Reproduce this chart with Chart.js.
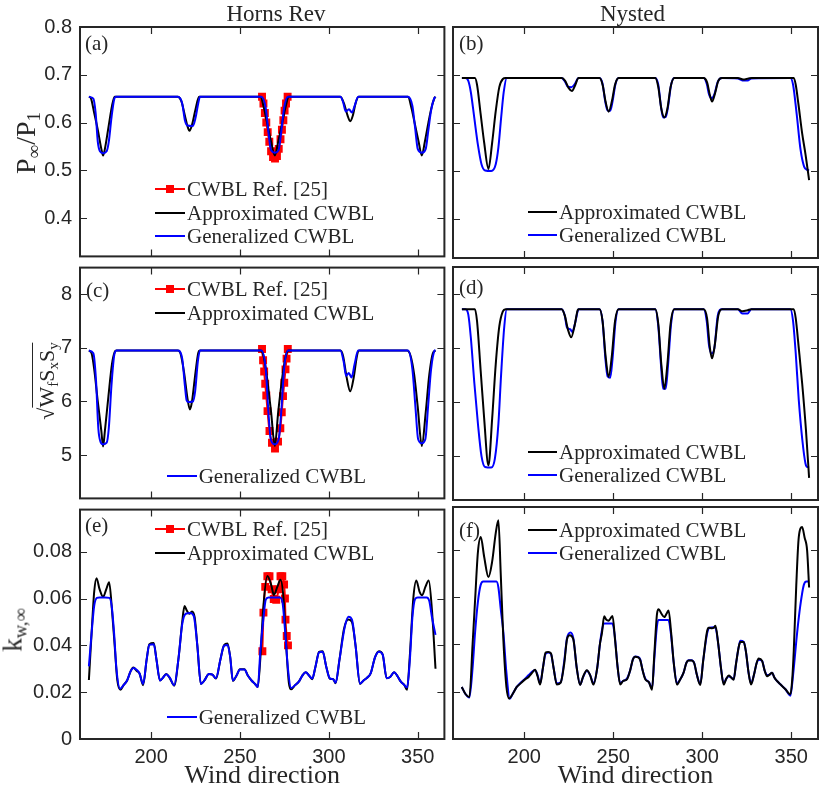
<!DOCTYPE html>
<html><head><meta charset="utf-8">
<script src="https://cdn.jsdelivr.net/npm/chart.js@4.4.0/dist/chart.umd.min.js"></script>
<style>
html,body{margin:0;padding:0;background:#fff;overflow:hidden;width:822px;height:790px;position:relative;}
canvas{position:absolute;}
.t{position:absolute;font-family:"Liberation Serif",serif;color:#262626;white-space:nowrap;line-height:1;z-index:5;}
.t sub{font-size:68%;vertical-align:-0.28em;line-height:0;}
.ln{position:absolute;height:2px;z-index:5;}
.mk{position:absolute;width:8px;height:8px;z-index:6;}
</style></head><body>
<script>
// ---------- axis ticks ----------
const xTicks = [200, 250, 300, 350];
const pTicks = [0.4, 0.5, 0.6, 0.7, 0.8];
const sTicks = [5, 6, 7, 8];
const kTicks = [0, 0.02, 0.04, 0.06, 0.08];

// ---------- Horns Rev : P_inf / P_1 ----------
const hrP_ref = [[262.4,0.654],[263.2,0.64],[264,0.62],[264.8,0.6],[265.6,0.58],[266.5,0.56],[267.5,0.54],[268.6,0.528],[269.7,0.525],[270.8,0.53],[271.8,0.545],[272.8,0.565],[273.6,0.585],[274.4,0.605],[275.1,0.625],[275.9,0.64],[276.8,0.654]];
const hrP_apx = [[165,0.654],[166,0.652],[168,0.62],[170,0.585],[172,0.545],[173,0.531],[174,0.545],[176,0.59],[178,0.635],[179.5,0.654],
 [215,0.654],[217,0.645],[219,0.615],[220.5,0.592],[221.6,0.583],[223,0.595],[225,0.628],[227,0.654],
 [261.5,0.654],[263.5,0.63],[265.5,0.595],[267.5,0.56],[269.6,0.531],[271.5,0.56],[273.5,0.595],[275.5,0.63],[277.5,0.654],
 [306.5,0.654],[308.5,0.64],[310.5,0.615],[312,0.603],[313.5,0.615],[315,0.64],[316.8,0.654],
 [344.5,0.654],[346.5,0.63],[348.5,0.595],[350.5,0.56],[352.3,0.531],[354,0.56],[356,0.6],[358,0.635],[359.5,0.652],[360,0.654]];
const hrP_gen = [[165,0.654],[167.5,0.65],[168.8,0.62],[170,0.56],[171.2,0.54],[173,0.536],[175,0.54],[176.2,0.56],[177.7,0.61],[179.2,0.648],[180.2,0.654],
 [215,0.654],[217.5,0.64],[219,0.605],[220.5,0.594],[223.5,0.593],[225,0.61],[226.5,0.64],[227.5,0.654],
 [262,0.654],[264.5,0.63],[266,0.58],[267.5,0.542],[269.7,0.537],[271.7,0.542],[273.2,0.58],[274.8,0.63],[277,0.654],
 [306.5,0.654],[308,0.643],[309.5,0.623],[311.3,0.628],[313,0.621],[314.5,0.635],[316.5,0.654],
 [344.5,0.654],[347,0.635],[348.5,0.59],[350,0.545],[352.3,0.537],[354.5,0.545],[356,0.585],[357.5,0.625],[359.2,0.65],[360,0.654]];

// ---------- Nysted : P_inf / P_1 ----------
const nyP_apx = [[165,0.694],[172.3,0.694],[173.5,0.68],[175.5,0.62],[177.5,0.56],[179.9,0.505],[182,0.56],[184,0.625],[186,0.675],[188,0.692],[189.5,0.694],
 [221,0.694],[223,0.688],[225,0.673],[226.8,0.667],[228.5,0.678],[230.5,0.694],
 [242.3,0.694],[244,0.68],[245.7,0.645],[247.4,0.624],[249.2,0.645],[251,0.68],[253,0.694],
 [273.6,0.694],[275.3,0.675],[277,0.63],[278.7,0.612],[280.4,0.63],[282.2,0.675],[284.3,0.694],
 [300.8,0.694],[302.7,0.685],[304.3,0.658],[305.5,0.645],[307,0.66],[309,0.688],[311.1,0.694],
 [320,0.694],[323,0.691],[326,0.693],[328,0.694],
 [351.4,0.694],[352.5,0.68],[354,0.64],[356.1,0.579],[358,0.535],[360,0.482]];
const nyP_gen = [[165,0.694],[167,0.694],[168.6,0.688],[170,0.665],[172,0.61],[174,0.555],[176,0.515],[178,0.502],[181.5,0.501],[184,0.515],[185.5,0.55],[187,0.61],[188.5,0.665],[190.2,0.694],
 [221,0.694],[223,0.686],[224.5,0.676],[226.5,0.675],[228.5,0.682],[230.5,0.694],
 [242.3,0.694],[244,0.682],[245.5,0.645],[246.8,0.627],[248.3,0.626],[249.6,0.645],[251.3,0.682],[253,0.694],
 [273.6,0.694],[275.3,0.68],[276.8,0.635],[278,0.612],[279.5,0.613],[280.8,0.635],[282.5,0.68],[284.3,0.694],
 [300.8,0.694],[302.5,0.682],[303.8,0.66],[305.3,0.652],[306.8,0.66],[308.7,0.686],[311,0.694],
 [320,0.693],[322.5,0.689],[325.5,0.689],[327.5,0.693],
 [349.5,0.694],[351,0.68],[353,0.62],[355.2,0.545],[357.2,0.51],[359,0.503],[360,0.502]];

// ---------- Horns Rev : sqrt(Wf Sx Sy) ----------
const hrS_ref = [[262.4,6.98],[263,6.77],[263.6,6.56],[264.2,6.33],[264.8,6.11],[265.5,5.82],[266.6,5.45],[268,5.23],[269.7,5.12],[271.4,5.25],[272.7,5.5],[273.5,5.8],[274.2,6.1],[274.9,6.35],[275.6,6.6],[276.2,6.8],[276.9,6.98]];
const hrS_apx = [[165,6.95],[166.5,6.9],[168,6.6],[170,6.0],[172,5.45],[173,5.16],[174,5.45],[176,6.1],[178,6.7],[179.5,6.92],[180.5,6.95],
 [215,6.95],[216.5,6.9],[218.5,6.55],[220.5,6.05],[221.8,5.85],[223,6.0],[225,6.55],[226.5,6.9],[227.5,6.95],
 [261.5,6.95],[263,6.88],[265,6.5],[267.5,5.8],[269.6,5.17],[271.5,5.8],[274,6.5],[276,6.88],[277.5,6.95],
 [306.5,6.95],[308,6.85],[310,6.45],[312,6.19],[314,6.45],[315.8,6.85],[317,6.95],
 [344,6.95],[346,6.85],[348,6.5],[350,5.9],[352.3,5.17],[354.5,5.8],[356.5,6.5],[358.5,6.9],[360,6.95]];
const hrS_gen = [[165,6.95],[167.5,6.9],[169,6.4],[170.3,5.5],[171.5,5.25],[173,5.2],[175,5.23],[176.2,5.5],[177.7,6.3],[179.2,6.85],[180.5,6.95],
 [215,6.95],[217.5,6.8],[219,6.3],[220,6.02],[221,5.99],[223.5,6.0],[224.8,6.2],[226.3,6.75],[227.5,6.95],
 [262,6.95],[264.5,6.6],[266,5.8],[267.3,5.3],[269.5,5.2],[271.8,5.3],[273.2,5.8],[274.8,6.6],[277,6.95],
 [306.5,6.95],[308.3,6.75],[309.7,6.48],[311.2,6.53],[312.8,6.45],[314.5,6.7],[316.5,6.95],
 [344.5,6.95],[347,6.6],[348.7,5.9],[350.2,5.3],[352.3,5.22],[354.3,5.3],[355.8,5.9],[357.5,6.6],[359.5,6.95],[360,6.96]];

// ---------- Nysted : sqrt(Wf Sx Sy) ----------
const nyS_apx = [[165,7.72],[172.3,7.72],[173.5,7.5],[175.5,6.6],[177.5,5.7],[179.9,4.83],[182,5.7],[184,6.7],[186,7.4],[188,7.68],[189.5,7.72],
 [221,7.72],[222.8,7.6],[224.5,7.35],[226.4,7.2],[228.2,7.4],[230,7.7],[230.5,7.72],
 [242.3,7.72],[244,7.5],[245.7,6.85],[247.4,6.47],[249.2,6.85],[251,7.5],[253,7.72],
 [273.6,7.72],[275.3,7.45],[277,6.7],[278.7,6.25],[280.4,6.7],[282.2,7.45],[284.3,7.72],
 [300.8,7.72],[302.7,7.55],[304.3,7.0],[305.5,6.81],[307,7.05],[309,7.6],[311.1,7.72],
 [320,7.72],[322.5,7.68],[325.5,7.7],[327.5,7.72],
 [351.4,7.72],[352.5,7.55],[354.2,7.0],[356.1,6.35],[358.2,5.5],[360,4.6]];
const nyS_gen = [[165,7.72],[167,7.72],[168.6,7.62],[170,7.2],[172,6.35],[174,5.6],[176,5.0],[178,4.8],[181.5,4.79],[183.5,4.95],[185.5,5.6],[187,6.5],[188.8,7.4],[190.2,7.72],
 [221,7.72],[222.8,7.6],[224,7.38],[225.8,7.35],[227,7.3],[228.5,7.45],[230,7.68],[230.5,7.72],
 [242.3,7.72],[244,7.5],[245.6,6.8],[246.8,6.48],[248.3,6.45],[249.6,6.8],[251.3,7.5],[253,7.72],
 [273.6,7.72],[275.3,7.4],[276.8,6.7],[278,6.25],[279.5,6.25],[280.8,6.7],[282.5,7.45],[284.3,7.72],
 [300.8,7.72],[302.5,7.5],[303.8,7.05],[305.3,6.9],[306.8,7.0],[308.7,7.6],[311,7.72],
 [320,7.72],[322.5,7.64],[325.5,7.64],[327.5,7.72],
 [349.5,7.72],[351,7.5],[352.5,6.9],[354.2,6.04],[356.2,5.3],[358,4.86],[359,4.8],[360,4.8]];

// ---------- Horns Rev : k_w,inf ----------
const hrK_ref = [[262.6,0.0375],[263.2,0.054],[264.2,0.065],[265.4,0.0695],[266.6,0.0695],[267.8,0.064],[269,0.0598],[270.4,0.0595],[271.7,0.064],[272.8,0.0695],[273.8,0.0695],[274.8,0.066],[275.3,0.06],[275.6,0.051],[276.3,0.044],[277,0.04]];
const hrK_apx = [[165,0.0252],[166.5,0.045],[168,0.063],[169.3,0.0687],[171,0.064],[173,0.0607],[174.8,0.064],[176.4,0.067],[178,0.055],[179.5,0.04],[181,0.025],[182.8,0.021],[184.5,0.023],[186.5,0.025],[188.5,0.029],[190,0.0305],[192,0.029],[193.5,0.028],[195.5,0.023],[197.5,0.034],[199,0.0405],[201.5,0.041],[203,0.034],[205,0.025],[206.5,0.026],[208.5,0.0278],[210.5,0.026],[213,0.0228],[215.5,0.035],[217.5,0.05],[218.8,0.0568],[220,0.055],[221.5,0.0535],[223,0.0545],[224.5,0.052],[226,0.04],[228,0.0235],[230,0.025],[232.5,0.0278],[234.5,0.0275],[236.5,0.0258],[239,0.034],[241,0.04],[243,0.0408],[244.5,0.035],[246,0.0248],[248,0.027],[250,0.0298],[252.5,0.0298],[254.5,0.027],[256.5,0.025],[258.5,0.0235],[260,0.0222],[261.5,0.035],[263,0.055],[265.4,0.0696],[267.5,0.066],[269.1,0.0615],[271,0.065],[272.8,0.068],[274.5,0.06],[276,0.04],[277.5,0.024],[278.8,0.0212],[281,0.023],[283.1,0.0245],[285,0.027],[287,0.0285],[289,0.027],[290.6,0.0255],[292.5,0.031],[294.5,0.0372],[296.5,0.0375],[298.5,0.031],[300.5,0.0258],[302.5,0.0255],[303.8,0.0238],[306,0.034],[308.5,0.047],[311,0.051],[313,0.05],[315,0.04],[317.5,0.0235],[319.5,0.025],[321.5,0.0262],[323.5,0.028],[326,0.035],[328.2,0.0375],[330.3,0.036],[332.5,0.026],[334.5,0.0265],[336.7,0.0285],[338.5,0.027],[340.5,0.0245],[342.5,0.023],[344,0.021],[345.5,0.035],[347.5,0.06],[349.2,0.0677],[351,0.063],[352.5,0.0614],[354.3,0.065],[356.2,0.0677],[358,0.055],[360,0.03]];
const hrK_gen = [[165,0.031],[166.5,0.045],[168,0.057],[169.5,0.0603],[171,0.0605],[174,0.0605],[176.5,0.0603],[177.8,0.057],[179.2,0.045],[180.5,0.03],[182.5,0.0215],[184.5,0.023],[186.5,0.025],[188.5,0.029],[190,0.0303],[192,0.0295],[193.5,0.028],[195.5,0.0235],[197.5,0.034],[199,0.0402],[201.5,0.0405],[203,0.034],[205,0.025],[206.5,0.026],[208.5,0.0277],[210.5,0.0262],[213,0.023],[215.5,0.035],[217.5,0.049],[219.5,0.0535],[222,0.0538],[224,0.0525],[226,0.04],[228,0.0235],[230,0.025],[232.5,0.0278],[234.5,0.0275],[236.5,0.026],[239,0.034],[241,0.0398],[243,0.0402],[244.5,0.035],[246,0.025],[248,0.027],[250,0.0297],[252.5,0.0297],[254.5,0.027],[256.5,0.025],[258.5,0.0235],[260,0.0222],[261.5,0.038],[263,0.05],[264.5,0.0595],[266,0.0605],[272.5,0.0605],[274,0.058],[275.5,0.045],[277,0.03],[278.8,0.0218],[281,0.023],[283.1,0.0245],[285,0.027],[287,0.0285],[289,0.027],[290.6,0.0258],[292.5,0.031],[294.5,0.037],[296.5,0.0373],[298.5,0.031],[300.5,0.026],[302.5,0.0255],[303.8,0.024],[306,0.034],[309,0.048],[311,0.0522],[313,0.051],[315,0.04],[317.5,0.0237],[319.5,0.025],[321.5,0.0262],[323.5,0.028],[326,0.035],[328.2,0.0373],[330.3,0.036],[332.5,0.026],[334.5,0.0265],[336.7,0.0285],[338.5,0.027],[340.5,0.0245],[342.5,0.023],[344,0.022],[345.5,0.033],[347,0.052],[348.5,0.0598],[350,0.0605],[355,0.0605],[356.5,0.059],[358,0.052],[360,0.0445]];

// ---------- Nysted : k_w,inf ----------
const nyK_apx = [[164.9,0.022],[167,0.019],[169.2,0.0177],[171,0.04],[172.4,0.0586],[174,0.079],[175.6,0.0853],[177.5,0.077],[179.9,0.0684],[182,0.075],[184,0.087],[185.5,0.0924],[186.8,0.07],[188.3,0.0417],[190,0.022],[191.5,0.0171],[193.5,0.019],[195.8,0.022],[198,0.0235],[200.5,0.0252],[202.5,0.0262],[204.5,0.028],[206.1,0.0293],[207.5,0.0265],[208.9,0.023],[210.5,0.03],[212,0.0365],[213.5,0.0368],[215,0.0362],[216.5,0.03],[218.3,0.023],[220.5,0.0238],[222.5,0.032],[224,0.042],[225.5,0.0438],[227.6,0.042],[229.5,0.03],[231.4,0.0228],[233,0.0262],[235.2,0.029],[237,0.027],[238.9,0.023],[241,0.03],[242.5,0.04],[243.6,0.0445],[244.9,0.0518],[246,0.0505],[247.4,0.05],[248.5,0.051],[249.6,0.052],[251,0.042],[252.5,0.03],[253.9,0.023],[255.5,0.0245],[257.7,0.0252],[259.5,0.029],[261,0.0335],[262.4,0.0347],[264,0.0345],[265.2,0.0332],[266.5,0.029],[268,0.0252],[270,0.024],[271.8,0.0208],[273,0.035],[274.6,0.053],[275.5,0.0548],[277,0.053],[278.7,0.0515],[280,0.053],[281.1,0.0543],[282.5,0.045],[284,0.032],[285.8,0.023],[287.5,0.025],[289.5,0.028],[291,0.032],[292.3,0.0332],[294,0.0332],[295.5,0.032],[297,0.027],[298.9,0.0228],[300.5,0.033],[302.7,0.0455],[303.6,0.047],[305.4,0.0468],[306.5,0.047],[307.4,0.0478],[309,0.04],[310.5,0.03],[312,0.023],[313.5,0.0255],[314.9,0.0268],[316.2,0.026],[317.6,0.025],[319,0.032],[320.5,0.039],[321.4,0.041],[323.3,0.041],[324.5,0.037],[326,0.028],[327.4,0.023],[329,0.027],[330.5,0.032],[331.7,0.034],[333.6,0.033],[335,0.029],[336.4,0.0265],[337.8,0.0272],[339.2,0.028],[340.5,0.026],[342,0.0245],[344,0.023],[346.7,0.021],[349.5,0.0189],[350.5,0.025],[351.4,0.0375],[352.8,0.065],[354.2,0.0853],[356.1,0.0895],[357.5,0.085],[358.9,0.0796],[360,0.064]];
const nyK_gen = [[164.9,0.022],[167,0.019],[169.2,0.0175],[171,0.03],[172.4,0.045],[174,0.058],[175.5,0.065],[177,0.0665],[184.4,0.0665],[185.5,0.064],[186.8,0.055],[188.3,0.045],[190,0.028],[191.9,0.017],[193.5,0.019],[195.8,0.022],[198,0.0238],[200.5,0.0255],[202.5,0.027],[204.5,0.0285],[206.1,0.029],[207.5,0.027],[208.9,0.0235],[210.5,0.03],[212,0.036],[213.5,0.0365],[215,0.036],[216.5,0.03],[218.3,0.0235],[220.5,0.024],[222.5,0.033],[224,0.0425],[226,0.045],[227.6,0.0425],[229.5,0.03],[231.4,0.023],[233,0.026],[235.2,0.0288],[237,0.027],[238.9,0.0235],[241,0.03],[242.5,0.04],[243.8,0.0465],[245,0.0488],[249.5,0.0488],[250.8,0.044],[252.5,0.03],[253.9,0.0235],[255.5,0.0245],[257.7,0.0255],[259.5,0.029],[261,0.0335],[262.4,0.0348],[264,0.0347],[265.2,0.0335],[266.5,0.029],[268,0.0255],[270,0.024],[271.8,0.0215],[273,0.033],[274.3,0.046],[275.3,0.0503],[281,0.0503],[282.3,0.045],[284,0.032],[285.8,0.0235],[287.5,0.025],[289.5,0.028],[291,0.032],[292.3,0.0333],[294,0.0333],[295.5,0.032],[297,0.027],[298.9,0.0232],[300.5,0.033],[302.7,0.0445],[304,0.047],[306.5,0.0472],[307.4,0.047],[309,0.04],[310.5,0.03],[312,0.0235],[313.5,0.0255],[314.9,0.0265],[316.2,0.026],[317.6,0.0252],[319,0.032],[320.5,0.039],[321.4,0.0415],[323.3,0.041],[324.5,0.037],[326,0.028],[327.4,0.0235],[329,0.027],[330.5,0.032],[331.7,0.0335],[333.6,0.033],[335,0.029],[336.4,0.027],[337.8,0.0272],[339.2,0.028],[340.5,0.026],[342,0.0245],[344,0.023],[346.7,0.021],[349.5,0.0183],[351,0.027],[353.3,0.045],[355,0.056],[357,0.065],[358.5,0.0665],[360,0.0665]];

// ---------- drawing ----------
const INK = '#262626';
const RED = '#ff0000', BLACK = '#000000', BLUE = '#0000ff';

const boxPlugin = {
  id: 'boxTicks',
  afterDatasetsDraw(chart) {
    const {ctx, chartArea: a, scales: {x, y}} = chart;
    const len = 7;
    ctx.save();
    ctx.strokeStyle = INK;
    ctx.lineWidth = 1.2;
    ctx.beginPath();
    x.ticks.forEach(t => {
      const px = Math.round(x.getPixelForValue(t.value)) + 0.5;
      ctx.moveTo(px, a.bottom); ctx.lineTo(px, a.bottom - len);
      ctx.moveTo(px, a.top); ctx.lineTo(px, a.top + len);
    });
    y.ticks.forEach(t => {
      const py = Math.round(y.getPixelForValue(t.value)) + 0.5;
      ctx.moveTo(a.left, py); ctx.lineTo(a.left + len, py);
      ctx.moveTo(a.right, py); ctx.lineTo(a.right - len, py);
    });
    ctx.stroke();
    ctx.lineWidth = 2;
    ctx.strokeRect(a.left, a.top, a.right - a.left, a.bottom - a.top);
    ctx.restore();
  }
};

function panel(o) {
  const c = document.createElement('canvas');
  c.width = o.w; c.height = o.h;
  c.style.left = o.left + 'px'; c.style.top = o.top + 'px';
  c.style.width = o.w + 'px'; c.style.height = o.h + 'px';
  document.body.appendChild(c);
  const datasets = o.series.map(s => ({
    data: s.pts.map(p => ({x: p[0], y: p[1]})),
    borderColor: s.color, backgroundColor: s.color,
    borderWidth: s.bw, pointRadius: s.marker ? 5.6 : 0, pointStyle: 'rect',
    pointBorderWidth: 0, pointHoverRadius: 0,
    cubicInterpolationMode: 'monotone', tension: 0.4, fill: false, order: s.order
  }));
  new Chart(c, {
    type: 'line',
    data: {datasets},
    plugins: [boxPlugin],
    options: {
      animation: false, responsive: false, maintainAspectRatio: false,
      events: [],
      layout: {padding: {left: 0, top: o.padT, right: o.padR, bottom: 0}},
      plugins: {legend: {display: false}, tooltip: {enabled: false}, title: {display: false}},
      scales: {
        x: {
          type: 'linear', min: 160, max: 365,
          afterBuildTicks: s => { s.ticks = xTicks.map(v => ({value: v})); },
          afterFit: s => { s.height = o.padB; s.paddingLeft = 0; s.paddingRight = 0; },
          grid: {display: false, drawTicks: false}, border: {display: false},
          ticks: {display: o.xLabels, padding: 6, color: INK, autoSkip: false, maxRotation: 0,
                  font: {family: 'Liberation Sans', size: 20}, callback: v => String(v)},
          title: {display: o.xLabels, text: 'Wind direction', color: INK,
                  font: {family: 'Liberation Serif', size: 26}, padding: {top: 0, bottom: 8}}
        },
        y: {
          type: 'linear', min: o.yMin, max: o.yMax,
          afterBuildTicks: s => { s.ticks = o.yTicks.map(v => ({value: v})); },
          afterFit: s => { s.width = o.padL; s.paddingTop = 0; s.paddingBottom = 0; },
          grid: {display: false, drawTicks: false}, border: {display: false},
          ticks: {display: o.yLabels, padding: 8, color: INK, autoSkip: false,
                  font: {family: 'Liberation Sans', size: 20}, callback: o.yFmt}
        }
      }
    }
  });
}

const fmtP = v => v.toFixed(1);
const fmtS = v => String(Math.round(v));
const fmtK = v => (v === 0 ? '0' : v.toFixed(2));

const colL = {left: 0, w: 450, padL: 80, padR: 4};
const colR = {left: 449, w: 373, padL: 4, padR: 4};
const row1 = {top: 0, h: 262, padT: 27, padB: 4};
const row2 = {top: 262, h: 242, padT: 5, padB: 4};
const row3 = {top: 504, h: 296, padT: 3, padB: 61};

function mk(col, row, extra) { return Object.assign({}, col, row, extra); }

// left: blue on top ; right: black on top
panel(mk(colL, row1, {yMin: 0.32, yMax: 0.8, yTicks: pTicks, yFmt: fmtP, yLabels: true, xLabels: false,
  series: [{pts: hrP_ref, color: RED, bw: 2, marker: true, order: 3},
           {pts: hrP_apx, color: BLACK, bw: 2, order: 2},
           {pts: hrP_gen, color: BLUE, bw: 2, order: 1}]}));
panel(mk(colR, row1, {yMin: 0.32, yMax: 0.8, yTicks: pTicks, yFmt: fmtP, yLabels: false, xLabels: false,
  series: [{pts: nyP_gen, color: BLUE, bw: 2, order: 2},
           {pts: nyP_apx, color: BLACK, bw: 2, order: 1}]}));
panel(mk(colL, row2, {yMin: 4.19, yMax: 8.5, yTicks: sTicks, yFmt: fmtS, yLabels: true, xLabels: false,
  series: [{pts: hrS_ref, color: RED, bw: 2, marker: true, order: 3},
           {pts: hrS_apx, color: BLACK, bw: 2, order: 2},
           {pts: hrS_gen, color: BLUE, bw: 2, order: 1}]}));
panel(mk(colR, row2, {yMin: 4.19, yMax: 8.5, yTicks: sTicks, yFmt: fmtS, yLabels: false, xLabels: false,
  series: [{pts: nyS_gen, color: BLUE, bw: 2, order: 2},
           {pts: nyS_apx, color: BLACK, bw: 2, order: 1}]}));
panel(mk(colL, row3, {yMin: 0, yMax: 0.098, yTicks: kTicks, yFmt: fmtK, yLabels: true, xLabels: true,
  series: [{pts: hrK_ref, color: RED, bw: 2, marker: true, order: 3},
           {pts: hrK_apx, color: BLACK, bw: 2, order: 2},
           {pts: hrK_gen, color: BLUE, bw: 2, order: 1}]}));
panel(mk(colR, row3, {yMin: 0, yMax: 0.098, yTicks: kTicks, yFmt: fmtK, yLabels: false, xLabels: true,
  series: [{pts: nyK_gen, color: BLUE, bw: 2, order: 2},
           {pts: nyK_apx, color: BLACK, bw: 2, order: 1}]}));

// ---------- text overlays ----------
function txt(html, x, y, size, tf) {
  const d = document.createElement('div');
  d.className = 't'; d.innerHTML = html;
  d.style.left = x + 'px'; d.style.top = y + 'px'; d.style.fontSize = size + 'px';
  d.style.transform = tf || 'translateY(-50%)';
  document.body.appendChild(d);
  return d;
}
function legRow(x0, y, w, color, marker, label) {
  const l = document.createElement('div');
  l.className = 'ln'; l.style.left = x0 + 'px'; l.style.top = (y - 1) + 'px';
  l.style.width = w + 'px'; l.style.background = color;
  document.body.appendChild(l);
  if (marker) {
    const m = document.createElement('div');
    m.className = 'mk'; m.style.left = (x0 + w / 2 - 4) + 'px'; m.style.top = (y - 4) + 'px';
    m.style.background = color;
    document.body.appendChild(m);
  }
  txt(label, x0 + w + 2, y, 21);
}

const C = 'translate(-50%,-50%)';
const R = 'translate(-50%,-50%) rotate(-90deg)';
txt('Horns Rev', 276, 12.5, 23, C);
txt('Nysted', 632.5, 12.5, 23, C);

txt('P<sub>∞</sub>/P<sub>1</sub>', 26, 143, 28, R);
txt('√<span style="border-top:1.5px solid #262626;padding-top:1px">W<sub>f</sub>S<sub>x</sub>S<sub>y</sub></span>', 47, 381, 22, R);
txt('k<sub>w,∞</sub>', 13, 630, 27, R);

txt('(a)', 85, 43.3, 21);
txt('(b)', 459, 43, 21);
txt('(c)', 86, 290, 21);
txt('(d)', 459, 286.7, 21);
txt('(e)', 85, 525, 21);
txt('(f)', 459, 530, 21);

legRow(155, 189.3, 30, RED, true, 'CWBL Ref. [25]');
legRow(155, 212.7, 30, BLACK, false, 'Approximated CWBL');
legRow(155, 236, 30, BLUE, false, 'Generalized CWBL');

legRow(528, 211.7, 29, BLACK, false, 'Approximated CWBL');
legRow(528, 235, 29, BLUE, false, 'Generalized CWBL');

legRow(155, 289.3, 30, RED, true, 'CWBL Ref. [25]');
legRow(155, 312.7, 30, BLACK, false, 'Approximated CWBL');
legRow(166.7, 476, 30, BLUE, false, 'Generalized CWBL');

legRow(528, 451.7, 29, BLACK, false, 'Approximated CWBL');
legRow(528, 475, 29, BLUE, false, 'Generalized CWBL');

legRow(155, 529.3, 30, RED, true, 'CWBL Ref. [25]');
legRow(155, 553.3, 30, BLACK, false, 'Approximated CWBL');
legRow(166.7, 716.7, 30, BLUE, false, 'Generalized CWBL');

legRow(528, 530, 29, BLACK, false, 'Approximated CWBL');
legRow(528, 553.3, 29, BLUE, false, 'Generalized CWBL');
</script>
</body></html>
